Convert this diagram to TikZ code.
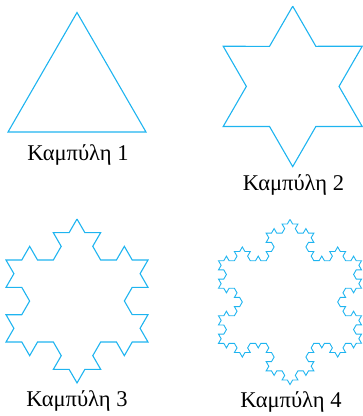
\documentclass[tikz,border=0pt]{standalone}
\usepackage{fontspec}
\setmainfont{Liberation Serif}
\usepackage{tikz}
\usetikzlibrary{
  % enables the Koch snowflake decoration
  decorations.fractals,%
  positioning
}
\definecolor{skyblue}{RGB}{30, 180, 240}
\tikzset{koch/.style={draw=skyblue, line width=1.1pt, line join=miter}}
\tikzset{curvelabel/.style={font=\fontsize{22.5}{27}\selectfont, anchor=base, inner sep=0pt}}

\begin{document}
\begin{tikzpicture}[x=1pt, y=-1pt, decoration=Koch snowflake]
                \useasboundingbox (0, 0) rectangle (363, 416);%
                % curve 1
                \draw [koch] (77, 12.5) -- (146, 132) -- (8, 132) -- cycle;%
                \node [curvelabel] (label1) at (78, 160) {Καμπύλη 1};%
                % curve 2
                \draw [koch] decorate{(292.7, 6.2) -- (362.2, 126.5) -- (223.2, 126.5) -- cycle};%
                \node [curvelabel] (label2) at (293.5, 190) {Καμπύλη 2};%
                % curve 3
                \draw [koch] decorate{decorate{(77, 219) -- (148, 342) -- (6, 342) -- cycle}};%
                \node [curvelabel] (label3) at (77, 406.5) {Καμπύλη 3};%
                % curve 4
                \draw [koch, line width=0.9pt] decorate{decorate{decorate{(290, 219.4) -- (361.5, 343.3) -- (218.5, 343.3) -- cycle}}};%
                \node [curvelabel] (label4) at (291, 407.5) {Καμπύλη 4};%
              \end{tikzpicture}
\end{document}
